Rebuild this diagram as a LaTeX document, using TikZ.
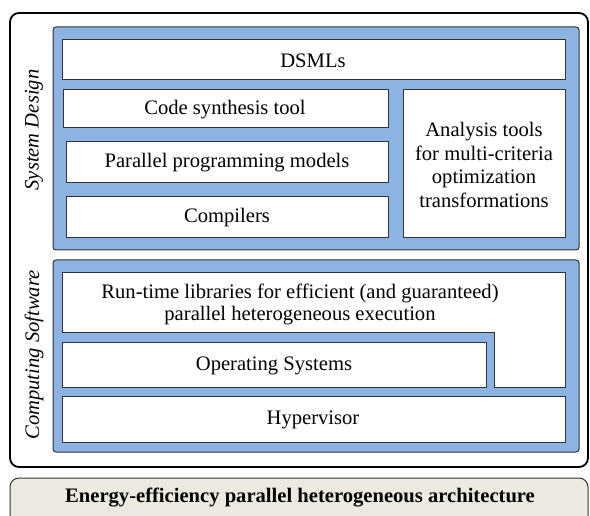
\documentclass[tikz,border=0pt]{standalone}
\usepackage{fontspec}
\setmainfont{Liberation Serif}
\definecolor{panelblue}{HTML}{8DB3E2}
\definecolor{beige}{HTML}{ECEAE0}
\definecolor{edge}{HTML}{333333}
\begin{document}
\begin{tikzpicture}[x=1pt,y=-1pt,
  panel/.style={draw=edge, line width=1pt, fill=panelblue, rounded corners=3pt},
  wbox/.style={draw=edge, line width=1pt, fill=white},
  txt/.style={font=\fontsize{20.6}{23.5}\selectfont, align=center},
  sidelabel/.style={font=\fontsize{20.6}{23}\selectfont\itshape, rotate=90}]
\useasboundingbox (0,0) rectangle (590,516);
% outer frames
\draw[line width=1.8pt, rounded corners=9pt, fill=white] (10,13) rectangle (588,467);
\draw[line width=1pt, draw=edge, rounded corners=9pt, fill=beige] (10,478) rectangle (588,530);
% panels
\draw[panel] (53,27) rectangle (579,250);
\draw[panel] (53,260) rectangle (579,452);
% system design boxes
\draw[wbox] (62,40) rectangle (565,80);
\draw[wbox] (63,90) rectangle (388,128);
\draw[wbox] (66,142) rectangle (388,183);
\draw[wbox] (66,197) rectangle (388,238);
\draw[wbox] (403,90) rectangle (565,238);
% computing software boxes
\draw[wbox] (62,273) -- (565,273) -- (565,387) -- (494,387) -- (494,333) -- (62,333) -- cycle;
\draw[wbox] (62,343) rectangle (486,387);
\draw[wbox] (62,396) rectangle (565,442);
% texts
\node[txt] (dsml) at (313,61) {DSMLs};
\node[txt] (cst) at (225,110) {Code synthesis tool};
\node[txt] (ppm) at (227,163) {Parallel programming models};
\node[txt] (comp) at (227,218) {Compilers};
\node[txt] (anal) at (484,165) {Analysis tools\\for multi-criteria\\optimization\\transformations};
\node[txt, font=\fontsize{20.6}{22}\selectfont] (rt) at (300,304) {Run-time libraries for efficient (and guaranteed)\\parallel heterogeneous execution};
\node[txt] (os) at (274,366) {Operating Systems};
\node[txt] (hyp) at (313,420) {Hypervisor};
\node[txt, font=\fontsize{20.6}{23}\selectfont\bfseries] (arch) at (300,498) {Energy-efficiency parallel heterogeneous architecture};
\node[sidelabel] (sd) at (34,130) {System Design};
\node[sidelabel] (cs) at (34,355) {Computing Software};
\end{tikzpicture}
\end{document}
